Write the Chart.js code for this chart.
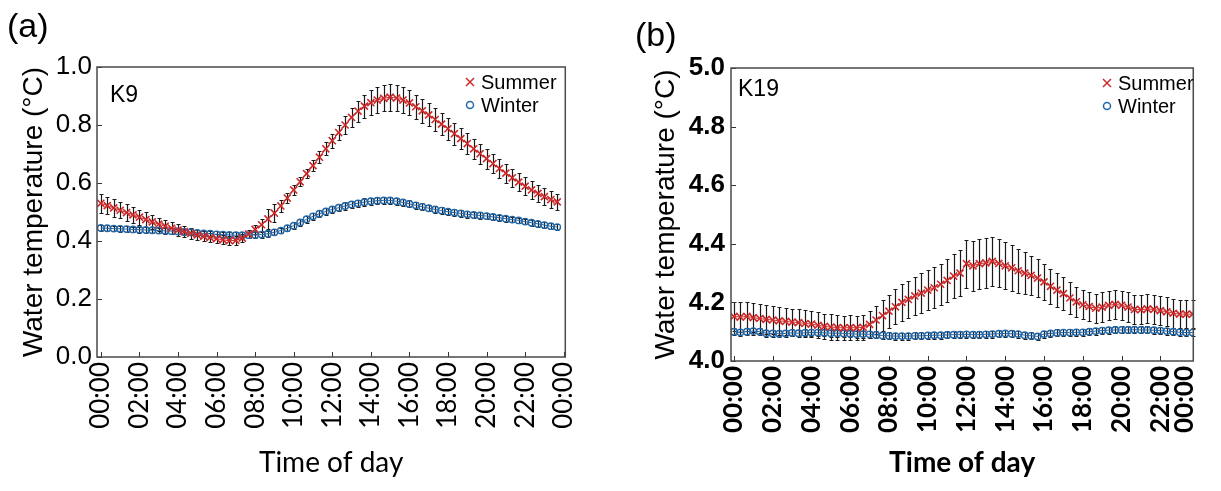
<!DOCTYPE html>
<html lang="en">
<head>
  <meta charset="UTF-8">
  <title>Diurnal water temperature – K9 / K19</title>
  <script src="https://cdn.jsdelivr.net/npm/chart.js@4.4.0/dist/chart.umd.min.js"></script>
  <style>
    body { margin: 0; background: #fff; }
    .panel { position: absolute; top: 0; }
    #panelA { left: 0; }
    #panelB { left: 600px; }
  </style>
</head>
<body>
  <div class="panel" id="panelA"><canvas id="chartA" width="600" height="491"></canvas></div>
  <div class="panel" id="panelB"><canvas id="chartB" width="621" height="491"></canvas></div>

  <script>
    // 20-minute means over the day, 00:00 .. 23:40
    const stepMinutes = 20;
    const hourLabels = ['00:00', '02:00', '04:00', '06:00', '08:00', '10:00', '12:00',
                        '14:00', '16:00', '18:00', '20:00', '22:00', '00:00'];
    const tickMinutesA = [0, 120, 240, 360, 480, 600, 720, 840, 960, 1080, 1200, 1320, 1440];
    const tickMinutesB = [0, 120, 240, 360, 480, 600, 720, 840, 960, 1080, 1200, 1320, 1395];

    // K9
    const summerK9 = [
      0.530, 0.522, 0.514, 0.506, 0.498, 0.490, 0.482, 0.474, 0.466, 0.458, 0.451, 0.444,
      0.438, 0.432, 0.426, 0.421, 0.416, 0.412, 0.408, 0.404, 0.401, 0.402, 0.410, 0.424,
      0.440, 0.456, 0.476, 0.496, 0.521, 0.548, 0.576, 0.604, 0.632, 0.660, 0.689, 0.718,
      0.746, 0.774, 0.800, 0.826, 0.848, 0.865, 0.877, 0.886, 0.892, 0.896, 0.893, 0.886,
      0.876, 0.863, 0.849, 0.835, 0.819, 0.803, 0.787, 0.770, 0.753, 0.736, 0.718, 0.701,
      0.684, 0.667, 0.650, 0.634, 0.618, 0.603, 0.589, 0.576, 0.564, 0.553, 0.543, 0.535
    ];
    const summerK9Err = [
      0.032, 0.030, 0.030, 0.028, 0.028, 0.027, 0.026, 0.025, 0.024, 0.023, 0.022, 0.021,
      0.020, 0.019, 0.018, 0.018, 0.017, 0.016, 0.016, 0.015, 0.015, 0.015, 0.014, 0.014,
      0.015, 0.020, 0.035, 0.030, 0.022, 0.018, 0.016, 0.015, 0.016, 0.018, 0.020, 0.022,
      0.024, 0.026, 0.030, 0.034, 0.036, 0.040, 0.042, 0.044, 0.045, 0.046, 0.045, 0.044,
      0.043, 0.042, 0.041, 0.040, 0.040, 0.039, 0.038, 0.038, 0.037, 0.036, 0.035, 0.035,
      0.034, 0.034, 0.033, 0.033, 0.032, 0.032, 0.031, 0.031, 0.030, 0.030, 0.029, 0.028
    ];
    const winterK9 = [
      0.445, 0.444, 0.443, 0.442, 0.441, 0.440, 0.439, 0.438, 0.437, 0.436, 0.435, 0.434,
      0.433, 0.431, 0.430, 0.428, 0.426, 0.425, 0.423, 0.422, 0.421, 0.420, 0.420, 0.420,
      0.421, 0.422, 0.425, 0.430, 0.436, 0.444, 0.453, 0.464, 0.475, 0.485, 0.494, 0.502,
      0.509, 0.515, 0.521, 0.526, 0.530, 0.534, 0.537, 0.539, 0.540, 0.540, 0.537, 0.533,
      0.528, 0.523, 0.518, 0.513, 0.509, 0.505, 0.501, 0.498, 0.495, 0.492, 0.490, 0.488,
      0.486, 0.483, 0.480, 0.477, 0.474, 0.471, 0.467, 0.463, 0.459, 0.455, 0.451, 0.448
    ];
    const winterK9Err = [
      0.010, 0.010, 0.010, 0.010, 0.010, 0.010, 0.010, 0.010, 0.010, 0.010, 0.010, 0.010,
      0.010, 0.010, 0.010, 0.010, 0.010, 0.010, 0.010, 0.010, 0.010, 0.010, 0.010, 0.010,
      0.010, 0.010, 0.010, 0.010, 0.010, 0.011, 0.011, 0.011, 0.012, 0.012, 0.012, 0.013,
      0.013, 0.013, 0.013, 0.013, 0.013, 0.013, 0.013, 0.013, 0.013, 0.013, 0.013, 0.012,
      0.012, 0.012, 0.012, 0.011, 0.011, 0.011, 0.011, 0.011, 0.011, 0.011, 0.011, 0.011,
      0.011, 0.011, 0.011, 0.010, 0.010, 0.010, 0.010, 0.010, 0.010, 0.010, 0.010, 0.010
    ];

    // K19
    const summerK19 = [
      4.152, 4.150, 4.152, 4.148, 4.145, 4.142, 4.140, 4.137, 4.135, 4.133, 4.131, 4.128,
      4.126, 4.122, 4.118, 4.116, 4.114, 4.113, 4.114, 4.113, 4.115, 4.125, 4.140, 4.155,
      4.170, 4.185, 4.200, 4.210, 4.222, 4.232, 4.242, 4.250, 4.262, 4.275, 4.290, 4.300,
      4.332, 4.325, 4.332, 4.335, 4.340, 4.333, 4.325, 4.318, 4.308, 4.300, 4.292, 4.283,
      4.270, 4.255, 4.242, 4.230, 4.215, 4.202, 4.192, 4.186, 4.180, 4.184, 4.190, 4.193,
      4.190, 4.184, 4.176, 4.175, 4.178, 4.176, 4.172, 4.168, 4.163, 4.160, 4.160, 4.160
    ];
    const summerK19Err = [
      0.050, 0.050, 0.050, 0.050, 0.050, 0.049, 0.048, 0.047, 0.046, 0.046, 0.045, 0.045,
      0.044, 0.044, 0.043, 0.043, 0.042, 0.042, 0.042, 0.042, 0.043, 0.045, 0.048, 0.052,
      0.056, 0.060, 0.062, 0.064, 0.066, 0.067, 0.068, 0.070, 0.070, 0.072, 0.075, 0.078,
      0.082, 0.085, 0.085, 0.085, 0.084, 0.082, 0.080, 0.078, 0.075, 0.072, 0.068, 0.065,
      0.062, 0.060, 0.058, 0.056, 0.054, 0.052, 0.050, 0.050, 0.050, 0.050, 0.050, 0.050,
      0.050, 0.050, 0.050, 0.050, 0.050, 0.050, 0.050, 0.050, 0.050, 0.048, 0.048, 0.048
    ];
    const winterK19 = [
      4.100, 4.098, 4.100, 4.102, 4.100, 4.095, 4.094, 4.093, 4.094, 4.096, 4.095, 4.096,
      4.097, 4.097, 4.096, 4.095, 4.095, 4.094, 4.093, 4.092, 4.092, 4.091, 4.089, 4.087,
      4.086, 4.085, 4.085, 4.085, 4.086, 4.086, 4.087, 4.088, 4.088, 4.089, 4.090, 4.090,
      4.091, 4.090, 4.090, 4.091, 4.092, 4.093, 4.094, 4.093, 4.092, 4.088, 4.086, 4.084,
      4.092, 4.094, 4.096, 4.097, 4.097, 4.098, 4.098, 4.100, 4.102, 4.104, 4.105, 4.106,
      4.106, 4.106, 4.107, 4.106, 4.106, 4.105, 4.104, 4.102, 4.100, 4.098, 4.097, 4.097
    ];
    const winterK19Err = [
      0.012, 0.012, 0.012, 0.012, 0.012, 0.012, 0.012, 0.012, 0.012, 0.012, 0.012, 0.012,
      0.012, 0.012, 0.012, 0.012, 0.012, 0.012, 0.012, 0.012, 0.012, 0.012, 0.012, 0.012,
      0.012, 0.012, 0.012, 0.012, 0.012, 0.012, 0.012, 0.012, 0.012, 0.012, 0.012, 0.012,
      0.012, 0.012, 0.012, 0.012, 0.012, 0.012, 0.012, 0.012, 0.012, 0.012, 0.012, 0.012,
      0.012, 0.012, 0.012, 0.012, 0.012, 0.012, 0.012, 0.012, 0.012, 0.012, 0.012, 0.012,
      0.012, 0.012, 0.012, 0.012, 0.012, 0.012, 0.012, 0.012, 0.012, 0.012, 0.012, 0.012
    ];

    const RED = '#cc2a2a';
    const BLUE = '#2468a8';
    const ARIAL = "'Liberation Sans', Arial, sans-serif";
    const CALIBRI = "Lato, 'Open Sans', sans-serif";

    const toPoints = vals => vals.map((v, i) => ({ x: i * stepMinutes, y: v }));

    // error bars, frame, inward ticks, legend and labels
    const panelDecor = {
      id: 'panelDecor',
      beforeDatasetsDraw(chart) {
        const { ctx } = chart;
        const ys = chart.scales.y;
        ctx.save();
        ctx.strokeStyle = '#1a1a1a';
        ctx.lineWidth = 1.2;
        chart.data.datasets.forEach((ds, di) => {
          const meta = chart.getDatasetMeta(di);
          meta.data.forEach((pt, i) => {
            const v = ds.data[i].y, e = ds.errors[i];
            const top = Math.round(ys.getPixelForValue(v + e)) + 0.5;
            const bot = Math.round(ys.getPixelForValue(v - e)) + 0.5;
            const x = Math.round(pt.x) + 0.5;
            ctx.beginPath();
            ctx.moveTo(x, top); ctx.lineTo(x, bot);
            ctx.moveTo(x - 2, top); ctx.lineTo(x + 2, top);
            ctx.moveTo(x - 2, bot); ctx.lineTo(x + 2, bot);
            ctx.stroke();
          });
        });
        ctx.restore();
      },
      afterDraw(chart, args, opts) {
        const { ctx, chartArea: a } = chart;
        const xs = chart.scales.x, ys = chart.scales.y;
        ctx.save();

        // inward tick marks on bottom and left
        ctx.strokeStyle = '#333';
        ctx.lineWidth = 1;
        ctx.beginPath();
        xs.ticks.forEach(t => {
          if (t.value > opts.lastTickMark) return;
          const x = Math.round(xs.getPixelForValue(t.value)) + 0.5;
          ctx.moveTo(x, a.bottom); ctx.lineTo(x, a.bottom - 5);
        });
        ys.ticks.forEach(t => {
          const y = Math.round(ys.getPixelForValue(t.value)) + 0.5;
          ctx.moveTo(a.left, y); ctx.lineTo(a.left + 5, y);
        });
        ctx.stroke();

        // frame
        ctx.strokeStyle = '#4a4a4a';
        ctx.lineWidth = 1.5;
        ctx.strokeRect(a.left, a.top, a.right - a.left, a.bottom - a.top);

        // panel tag and site name
        ctx.fillStyle = '#000';
        ctx.textBaseline = 'alphabetic';
        ctx.textAlign = 'left';
        ctx.font = `34px ${ARIAL}`;
        ctx.fillText(opts.tag, opts.tagX, opts.tagY);
        ctx.font = `23px ${ARIAL}`;
        ctx.fillText(opts.site, opts.siteX, opts.siteY);

        // legend
        const lx = opts.legendX, ly = opts.legendY;
        ctx.lineWidth = 1.5;
        ctx.strokeStyle = RED;
        ctx.beginPath();
        ctx.moveTo(lx - 4, ly - 4); ctx.lineTo(lx + 4, ly + 4);
        ctx.moveTo(lx - 4, ly + 4); ctx.lineTo(lx + 4, ly - 4);
        ctx.stroke();
        ctx.strokeStyle = BLUE;
        ctx.beginPath();
        ctx.arc(lx, ly + 23, 3.5, 0, Math.PI * 2);
        ctx.stroke();
        ctx.font = `20px ${ARIAL}`;
        ctx.fillStyle = '#000';
        ctx.fillText('Summer', lx + 11, ly + 7);
        ctx.fillText('Winter', lx + 11, ly + 30);
        ctx.restore();
      }
    };

    function makePanel(id, cfg) {
      return new Chart(document.getElementById(id), {
        type: 'scatter',
        data: {
          datasets: [
            {
              label: 'Summer', data: toPoints(cfg.summer), errors: cfg.summerErr,
              showLine: true, borderColor: RED, borderWidth: 1,
              pointStyle: 'crossRot', pointRadius: 5, pointBorderWidth: 1.6,
              pointBorderColor: RED, pointBackgroundColor: RED
            },
            {
              label: 'Winter', data: toPoints(cfg.winter), errors: cfg.winterErr,
              showLine: true, borderColor: BLUE, borderWidth: 1,
              pointStyle: 'circle', pointRadius: 3.2, pointBorderWidth: 1.4,
              pointBorderColor: BLUE, pointBackgroundColor: 'rgba(0,0,0,0)'
            }
          ]
        },
        options: {
          responsive: false,
          animation: false,
          devicePixelRatio: 1,
          layout: { padding: { top: cfg.top, right: cfg.right, bottom: 0, left: 0 } },
          plugins: {
            legend: { display: false },
            tooltip: { enabled: false },
            panelDecor: cfg.decor
          },
          scales: {
            x: {
              type: 'linear', min: cfg.xMin, max: cfg.xMax,
              grid: { display: false, drawTicks: false }, border: { display: false },
              afterBuildTicks: s => { s.ticks = cfg.tickMinutes.map(v => ({ value: v })); },
              afterFit: s => { s.height = cfg.xHeight; },
              ticks: {
                autoSkip: false, minRotation: 90, maxRotation: 90, padding: 5, color: '#000',
                font: { family: CALIBRI, size: 26, weight: cfg.bold ? 'bold' : 'normal' },
                callback: (v, i) => hourLabels[i]
              },
              title: {
                display: true, text: 'Time of day', color: '#000',
                font: { family: CALIBRI, size: 28, weight: cfg.bold ? 'bold' : 'normal' },
                padding: { top: 0, bottom: 11 }
              }
            },
            y: {
              min: cfg.yMin, max: cfg.yMax,
              grid: { display: false, drawTicks: false }, border: { display: false },
              afterFit: s => { s.width = cfg.yWidth; },
              ticks: {
                stepSize: 0.2, padding: cfg.yPad, color: '#000',
                font: { family: ARIAL, size: 26, weight: cfg.bold ? 'bold' : 'normal' },
                callback: v => v.toFixed(1)
              },
              title: {
                display: true, text: 'Water temperature (°C)', color: '#000',
                font: { family: ARIAL, size: 28 },
                padding: { top: cfg.titlePad, bottom: 0 }
              }
            }
          }
        },
        plugins: [panelDecor]
      });
    }

    makePanel('chartA', {
      summer: summerK9, summerErr: summerK9Err, winter: winterK9, winterErr: winterK9Err,
      tickMinutes: tickMinutesA, xMin: -12, xMax: 1445, yMin: 0, yMax: 1,
      top: 67, right: 34, xHeight: 134, yWidth: 97, yPad: 5, titlePad: 17, bold: false,
      decor: { tag: '(a)', tagX: 7, tagY: 37, site: 'K9', siteX: 110, siteY: 102,
               legendX: 470, legendY: 82, lastTickMark: 1440 }
    });

    makePanel('chartB', {
      summer: summerK19, summerErr: summerK19Err, winter: winterK19, winterErr: winterK19Err,
      tickMinutes: tickMinutesB, xMin: -9, xMax: 1422, yMin: 4, yMax: 5,
      top: 68, right: 13, xHeight: 130, yWidth: 131, yPad: 6, titlePad: 49, bold: true,
      decor: { tag: '(b)', tagX: 35, tagY: 46, site: 'K19', siteX: 138, siteY: 96,
               legendX: 507, legendY: 83, lastTickMark: 1320 }
    });
  </script>
</body>
</html>
